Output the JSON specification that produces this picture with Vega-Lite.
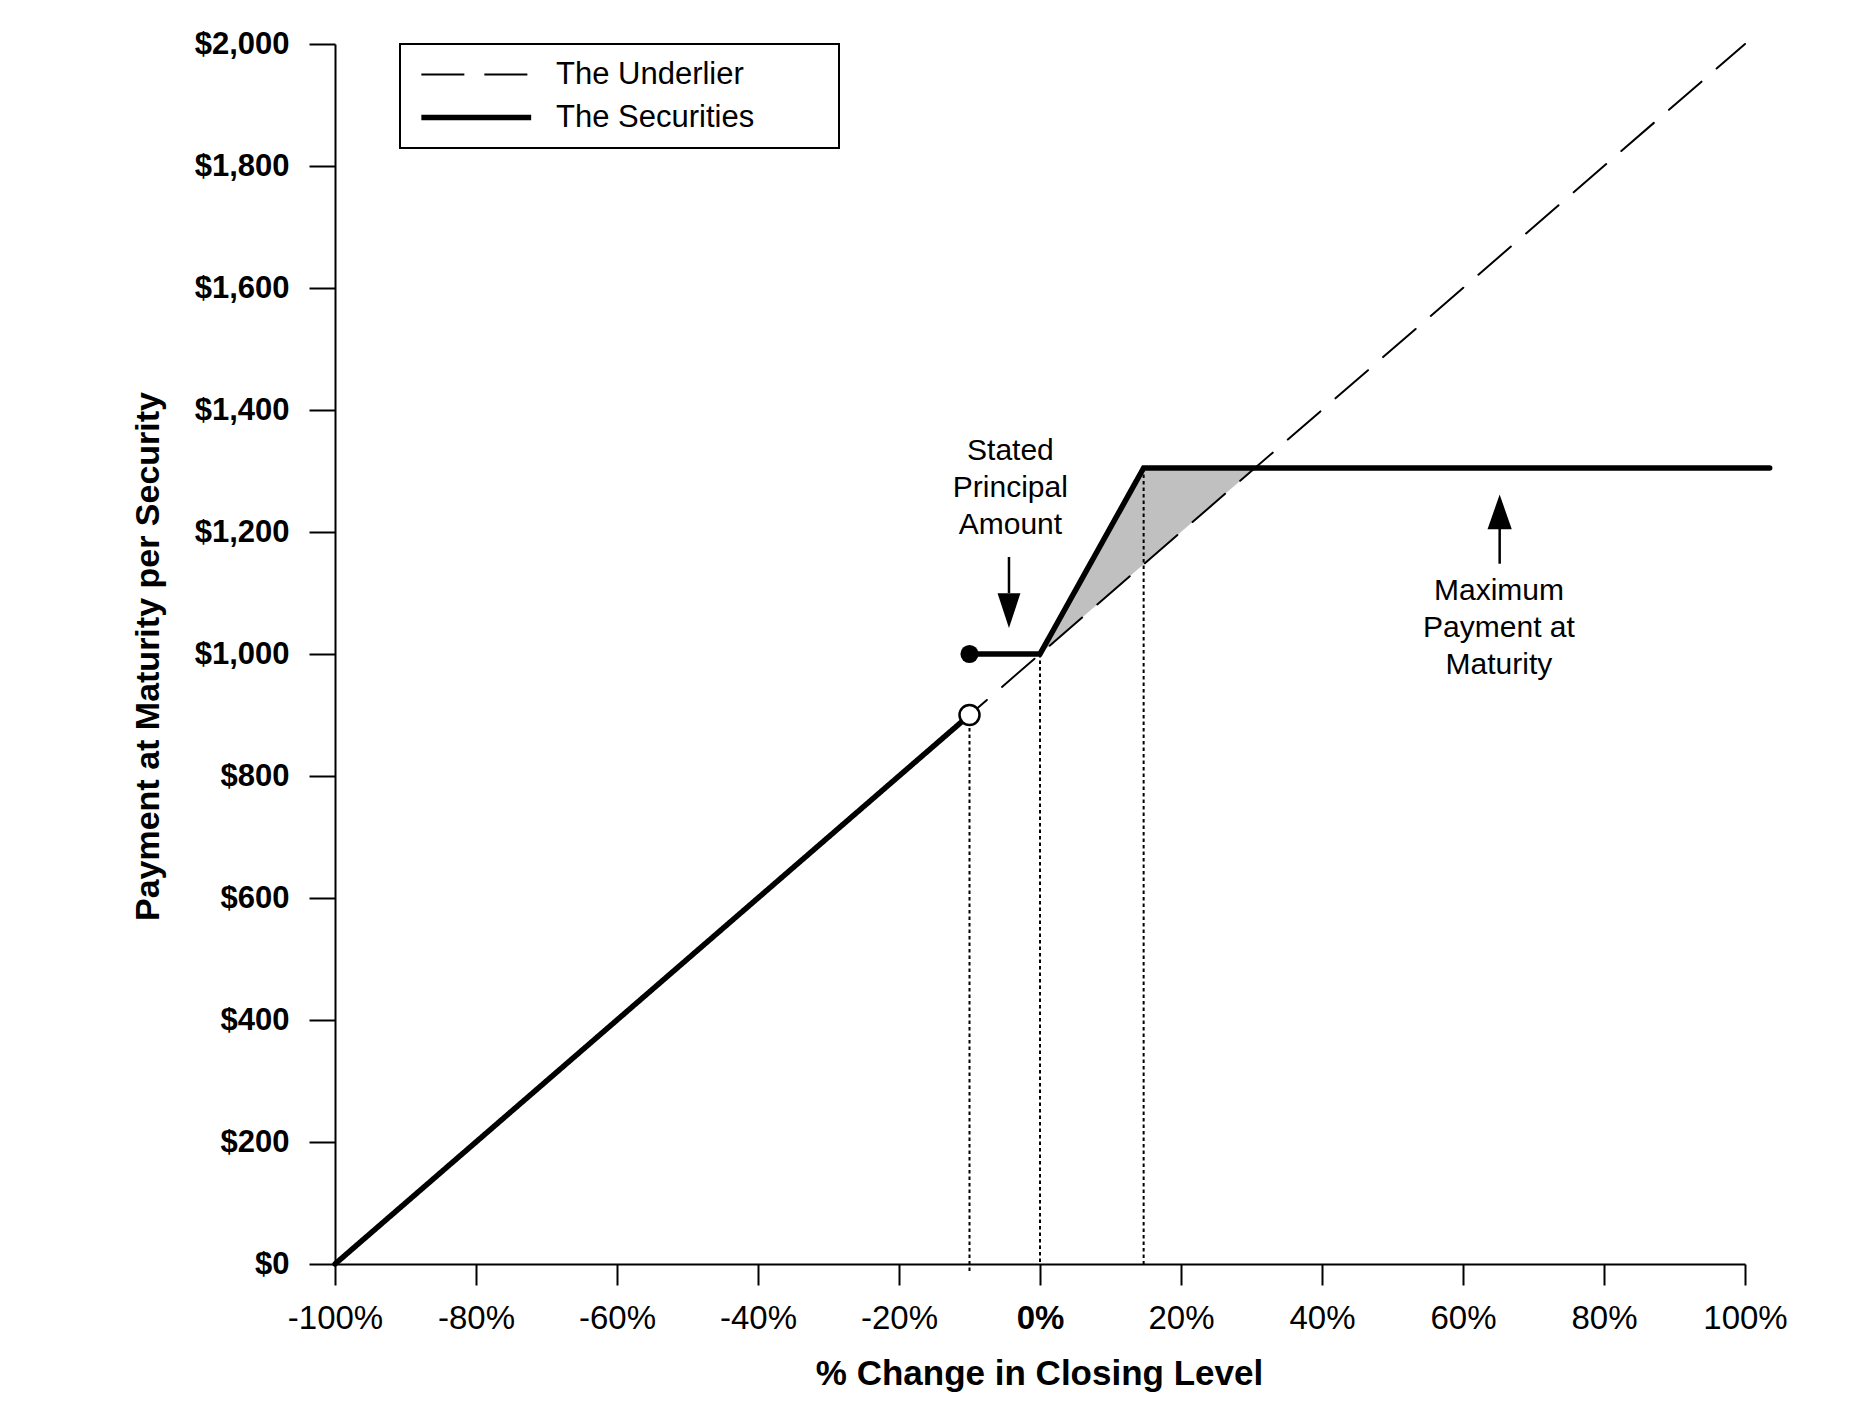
{
  "$schema": "https://vega.github.io/schema/vega-lite/v6.json",
  "width": 1410,
  "height": 1220,
  "autosize": {"type": "none"},
  "padding": {"left": 335, "top": 44, "right": 129, "bottom": 146},
  "background": "white",
  "config": {
    "view": {"stroke": null},
    "font": "Liberation Sans",
    "axis": {
      "grid": false,
      "domainColor": "black",
      "domainWidth": 2,
      "tickColor": "black",
      "tickWidth": 2,
      "labelColor": "black",
      "titleColor": "black",
      "labelFont": "Liberation Sans",
      "titleFont": "Liberation Sans",
      "labelFlush": false,
      "labelOverlap": false
    },
    "legend": {
      "padding": 15,
      "strokeColor": "black",
      "strokeWidth": 2,
      "fillColor": "white",
      "labelFont": "Liberation Sans",
      "labelFontSize": 31,
      "labelFontWeight": "normal",
      "labelColor": "black",
      "labelLimit": 600,
      "symbolType": "M-1,0L11,0",
      "symbolSize": 335,
      "symbolStrokeColor": "black",
      "symbolFillColor": "transparent",
      "labelOffset": 110,
      "rowPadding": 11
    }
  },
  "datasets": {
    "lines": [
      {"series": "The Underlier", "seg": "u", "pct": -100, "pay": 0},
      {"series": "The Underlier", "seg": "u", "pct": 100, "pay": 2000},
      {"series": "The Securities", "seg": "s1", "pct": -100, "pay": 0},
      {"series": "The Securities", "seg": "s1", "pct": -10, "pay": 900},
      {"series": "The Securities", "seg": "s2", "pct": -10, "pay": 1000},
      {"series": "The Securities", "seg": "s2", "pct": 0, "pay": 1000},
      {"series": "The Securities", "seg": "s2", "pct": 14.7, "pay": 1305},
      {"series": "The Securities", "seg": "s2", "pct": 103.5, "pay": 1305}
    ],
    "gain": [
      {"pct": 0, "pay": 1000, "pay2": 1000},
      {"pct": 14.7, "pay": 1305, "pay2": 1147},
      {"pct": 30.5, "pay": 1305, "pay2": 1305}
    ],
    "guides": [
      {"pct": -10, "pay": 900, "pay2": -13},
      {"pct": 0, "pay": 1000, "pay2": 0},
      {"pct": 14.7, "pay": 1305, "pay2": 0}
    ],
    "dots": [
      {"pct": -10, "pay": 1000, "kind": "filled"},
      {"pct": -10, "pay": 900, "kind": "open"}
    ],
    "arrows": [
      {"pct": -4.4, "pay": 1159, "pay2": 1100, "head": 1071, "dir": "down"},
      {"pct": 65.2, "pay": 1148, "pay2": 1207, "head": 1233, "dir": "up"}
    ],
    "notes": [
      {"pct": -4.2, "pay": 1318, "lines": ["Stated", "Principal", "Amount"]},
      {"pct": 65.1, "pay": 1088, "lines": ["Maximum", "Payment at", "Maturity"]}
    ]
  },
  "layer": [
    {
      "data": {"name": "gain"},
      "mark": {"type": "area", "color": "#c0c0c0", "opacity": 1},
      "encoding": {
        "x": {
          "field": "pct",
          "type": "quantitative",
          "scale": {"domain": [-100, 100], "nice": false},
          "axis": {
            "values": [-100, -80, -60, -40, -20, 0, 20, 40, 60, 80, 100],
            "labelExpr": "datum.value + '%'",
            "labelFontSize": 33,
            "labelFontWeight": {"condition": {"test": "datum.value == 0", "value": "bold"}, "value": "normal"},
            "tickSize": 21,
            "labelPadding": 17,
            "labelBaseline": "top",
            "title": "% Change in Closing Level",
            "titleFontSize": 35,
            "titleFontWeight": "bold",
            "titleX": 704,
            "titleY": 120,
            "titleBaseline": "alphabetic",
            "titleAlign": "center"
          }
        },
        "y": {
          "field": "pay",
          "type": "quantitative",
          "scale": {"domain": [0, 2000], "nice": false},
          "axis": {
            "values": [0, 200, 400, 600, 800, 1000, 1200, 1400, 1600, 1800, 2000],
            "format": "$,.0f",
            "labelFontSize": 31,
            "labelFontWeight": "bold",
            "tickSize": 26,
            "labelPadding": 20,
            "title": "Payment at Maturity per Security",
            "titleFontSize": 34,
            "titleFontWeight": "bold",
            "titleAngle": -90,
            "titleX": -187,
            "titleY": 612,
            "titleBaseline": "middle",
            "titleAlign": "center"
          }
        },
        "y2": {"field": "pay2"}
      }
    },
    {
      "data": {"name": "guides"},
      "mark": {"type": "rule", "color": "black", "strokeWidth": 2, "strokeDash": [3.5, 3]},
      "encoding": {
        "x": {"field": "pct", "type": "quantitative", "scale": {"domain": [-100, 100], "nice": false}},
        "y": {"field": "pay", "type": "quantitative", "scale": {"domain": [0, 2000], "nice": false}},
        "y2": {"field": "pay2"}
      }
    },
    {
      "data": {"name": "lines"},
      "mark": {"type": "line", "color": "black", "strokeCap": "round", "strokeJoin": "miter"},
      "encoding": {
        "x": {"field": "pct", "type": "quantitative", "scale": {"domain": [-100, 100], "nice": false}},
        "y": {"field": "pay", "type": "quantitative", "scale": {"domain": [0, 2000], "nice": false}},
        "detail": {"field": "seg"},
        "strokeDash": {
          "field": "series",
          "type": "nominal",
          "scale": {"domain": ["The Underlier", "The Securities"], "range": [[43, 20], [1, 0]]},
          "legend": {
            "title": null,
            "orient": "none",
            "legendX": 65,
            "legendY": 0,
            "encode": {"labels": {"update": {"text": {"signal": "datum.label + '\u00a0\u00a0\u00a0\u00a0\u00a0\u00a0\u00a0\u00a0\u200b'"}}}}
          }
        },
        "strokeWidth": {
          "field": "series",
          "type": "nominal",
          "scale": {"domain": ["The Underlier", "The Securities"], "range": [2, 5.5]},
          "legend": {
            "title": null,
            "orient": "none",
            "legendX": 65,
            "legendY": 0,
            "encode": {"labels": {"update": {"text": {"signal": "datum.label + '\u00a0\u00a0\u00a0\u00a0\u00a0\u00a0\u00a0\u00a0\u200b'"}}}}
          }
        }
      }
    },
    {
      "data": {"name": "dots"},
      "transform": [{"filter": "datum.kind == 'filled'"}],
      "mark": {"type": "point", "filled": true, "color": "black", "size": 330, "opacity": 1},
      "encoding": {
        "x": {"field": "pct", "type": "quantitative", "scale": {"domain": [-100, 100], "nice": false}},
        "y": {"field": "pay", "type": "quantitative", "scale": {"domain": [0, 2000], "nice": false}}
      }
    },
    {
      "data": {"name": "dots"},
      "transform": [{"filter": "datum.kind == 'open'"}],
      "mark": {"type": "point", "filled": false, "fill": "white", "fillOpacity": 1, "stroke": "black", "strokeWidth": 2.5, "size": 400, "opacity": 1},
      "encoding": {
        "x": {"field": "pct", "type": "quantitative", "scale": {"domain": [-100, 100], "nice": false}},
        "y": {"field": "pay", "type": "quantitative", "scale": {"domain": [0, 2000], "nice": false}}
      }
    },
    {
      "data": {"name": "arrows"},
      "mark": {"type": "rule", "color": "black", "strokeWidth": 2.5},
      "encoding": {
        "x": {"field": "pct", "type": "quantitative", "scale": {"domain": [-100, 100], "nice": false}},
        "y": {"field": "pay", "type": "quantitative", "scale": {"domain": [0, 2000], "nice": false}},
        "y2": {"field": "pay2"}
      }
    },
    {
      "data": {"name": "arrows"},
      "mark": {"type": "point", "filled": true, "color": "black", "size": 1200, "opacity": 1},
      "encoding": {
        "x": {"field": "pct", "type": "quantitative", "scale": {"domain": [-100, 100], "nice": false}},
        "y": {"field": "head", "type": "quantitative", "scale": {"domain": [0, 2000], "nice": false}},
        "shape": {
          "field": "dir",
          "type": "nominal",
          "scale": {"domain": ["down", "up"], "range": ["M-0.66,-1L0.66,-1L0,1Z", "M-0.7,1L0.7,1L0,-1Z"]},
          "legend": null
        }
      }
    },
    {
      "data": {"name": "notes"},
      "mark": {"type": "text", "align": "center", "baseline": "alphabetic", "fontSize": 30, "fontWeight": "normal", "lineHeight": 37, "color": "black", "font": "Liberation Sans"},
      "encoding": {
        "x": {"field": "pct", "type": "quantitative", "scale": {"domain": [-100, 100], "nice": false}},
        "y": {"field": "pay", "type": "quantitative", "scale": {"domain": [0, 2000], "nice": false}},
        "text": {"field": "lines"}
      }
    }
  ]
}
